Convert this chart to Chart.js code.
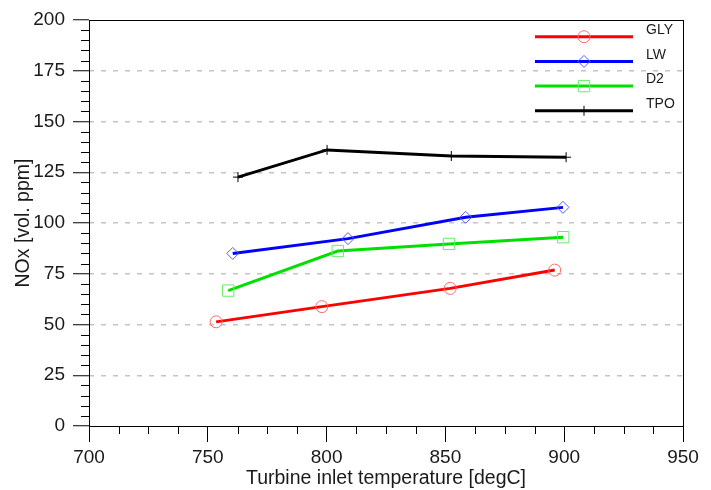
<!DOCTYPE html>
<html>
<head>
<meta charset="utf-8">
<script src="https://cdn.jsdelivr.net/npm/chart.js@4/dist/chart.umd.min.js"></script>
<style>
  html, body { margin: 0; padding: 0; background: #fff; }
  #wrap { width: 711px; height: 490px; }
</style>
</head>
<body>
<div id="wrap"><canvas id="noxChart" width="711" height="490"></canvas></div>
<script>
// values
var seriesNames = ["GLY", "LW", "D2", "TPO"];
var tempGLY = [753.5, 798, 852, 896];
var noxGLY = [51.3, 58.8, 67.8, 76.8];
var tempLW = [760.5, 809, 858.5, 899.5];
var noxLW = [85, 92.3, 102.8, 107.7];
var tempD2 = [758.6, 804.7, 851.5, 899.6];
var noxD2 = [66.7, 86.2, 89.7, 93];
var tempTPO = [762.7, 800.2, 852.5, 900.8];
var noxTPO = [122.6, 136, 133, 132.4];

var xTicks = [700, 750, 800, 850, 900, 950];
var yTicks = [0, 25, 50, 75, 100, 125, 150, 175, 200];

var colors = ["#ff0000", "#0000ff", "#00e000", "#000000"];
var markColors = ["#ff6a6a", "#5a5aff", "#66ee66", "#000000"];
var markers = ["circle", "rectRot", "rect", "cross"];
var markerSize = [6, 6, 8, 5];

function toPoints(xs, ys) {
    return xs.map(function (x, i) { return { x: x, y: ys[i] }; });
}

var allX = [tempGLY, tempLW, tempD2, tempTPO];
var allY = [noxGLY, noxLW, noxD2, noxTPO];

var datasets = seriesNames.map(function (name, i) {
    return {
        label: name,
        data: toPoints(allX[i], allY[i]),
        showLine: true,
        borderColor: colors[i],
        borderWidth: 3,
        pointStyle: markers[i],
        pointRadius: markerSize[i],
        pointBorderWidth: 1,
        pointBorderColor: markColors[i],
        pointBackgroundColor: "rgba(0,0,0,0)"
    };
});

var fontFam = "'Liberation Sans', Arial, sans-serif";

// frame around plot + minor ticks
var framePlugin = {
    id: "frame",
    afterDraw: function (chart) {
        var ctx = chart.ctx, a = chart.chartArea;
        var xs = chart.scales.x, ys = chart.scales.y;
        ctx.save();
        ctx.strokeStyle = "#000";
        ctx.lineWidth = 1;
        ctx.strokeRect(a.left + 0.5, a.top + 0.5, a.right - a.left, a.bottom - a.top);
        ctx.beginPath();
        for (var v = 0; v <= 200; v += 5) {
            if (v % 25 === 0) continue;
            var py = Math.round(ys.getPixelForValue(v)) + 0.5;
            ctx.moveTo(a.left - 8, py);
            ctx.lineTo(a.left, py);
        }
        for (var t = 700; t <= 950; t += 12.5) {
            if (t % 50 === 0) continue;
            var px = Math.round(xs.getPixelForValue(t)) + 0.5;
            ctx.moveTo(px, a.bottom);
            ctx.lineTo(px, a.bottom + 8);
        }
        ctx.stroke();
        ctx.restore();
    }
};

// legend: line with marker, label on the right
var legendPlugin = {
    id: "lineLegend",
    afterDraw: function (chart) {
        var ctx = chart.ctx;
        ctx.save();
        chart.data.datasets.forEach(function (ds, i) {
            var y = 36.7 + i * 24.7;
            ctx.strokeStyle = ds.borderColor;
            ctx.lineWidth = 3;
            ctx.beginPath();
            ctx.moveTo(535, y);
            ctx.lineTo(633, y);
            ctx.stroke();
            ctx.strokeStyle = ds.pointBorderColor;
            ctx.fillStyle = "rgba(0,0,0,0)";
            ctx.lineWidth = 1;
            Chart.helpers.drawPoint(ctx, {
                pointStyle: ds.pointStyle,
                rotation: 0,
                radius: ds.pointRadius,
                borderWidth: 1
            }, 584, y);
            ctx.fillStyle = "#1a1a1a";
            ctx.font = "14px " + fontFam;
            ctx.textAlign = "left";
            ctx.textBaseline = "middle";
            ctx.fillText(ds.label, 646, y - 6.5);
        });
        ctx.restore();
    }
};

new Chart(document.getElementById("noxChart"), {
    type: "scatter",
    data: { datasets: datasets },
    plugins: [framePlugin, legendPlugin],
    options: {
        responsive: false,
        devicePixelRatio: 1,
        animation: false,
        layout: { padding: { top: 20, right: 28, left: 0, bottom: 0 } },
        plugins: { legend: { display: false }, tooltip: { enabled: false } },
        scales: {
            x: {
                type: "linear",
                min: xTicks[0],
                max: xTicks[xTicks.length - 1],
                afterBuildTicks: function (s) {
                    s.ticks = xTicks.map(function (v) { return { value: v }; });
                },
                afterFit: function (s) { s.height = 64; },
                ticks: {
                    color: "#1a1a1a",
                    font: { family: fontFam, size: 19 },
                    padding: 4,
                    maxRotation: 0
                },
                grid: {
                    drawOnChartArea: false,
                    tickLength: 16,
                    tickColor: "#000",
                    tickWidth: 1
                },
                border: { color: "#000", width: 1 },
                title: {
                    display: true,
                    text: "Turbine inlet temperature [degC]",
                    color: "#1a1a1a",
                    font: { family: fontFam, size: 19.5 },
                    padding: { top: 0, bottom: 0 }
                }
            },
            y: {
                min: yTicks[0],
                max: yTicks[yTicks.length - 1],
                afterBuildTicks: function (s) {
                    s.ticks = yTicks.map(function (v) { return { value: v }; });
                },
                afterFit: function (s) { s.width = 89; },
                ticks: {
                    color: "#1a1a1a",
                    font: { family: fontFam, size: 19 },
                    padding: 8
                },
                grid: {
                    color: function (c) {
                        var v = c.tick ? c.tick.value : null;
                        return (v === 0 || v === 200) ? "rgba(0,0,0,0)" : "#c4c4c4";
                    },
                    lineWidth: 1.5,
                    tickLength: 16,
                    tickColor: "#000",
                    tickWidth: 1,
                    tickBorderDash: []
                },
                border: { color: "#000", width: 1, dash: [5, 7], dashOffset: -11 },
                title: {
                    display: true,
                    text: "NOx [vol. ppm]",
                    color: "#1a1a1a",
                    font: { family: fontFam, size: 19.5 },
                    padding: { top: 11.5, bottom: 0 }
                }
            }
        }
    }
});
</script>
</body>
</html>
